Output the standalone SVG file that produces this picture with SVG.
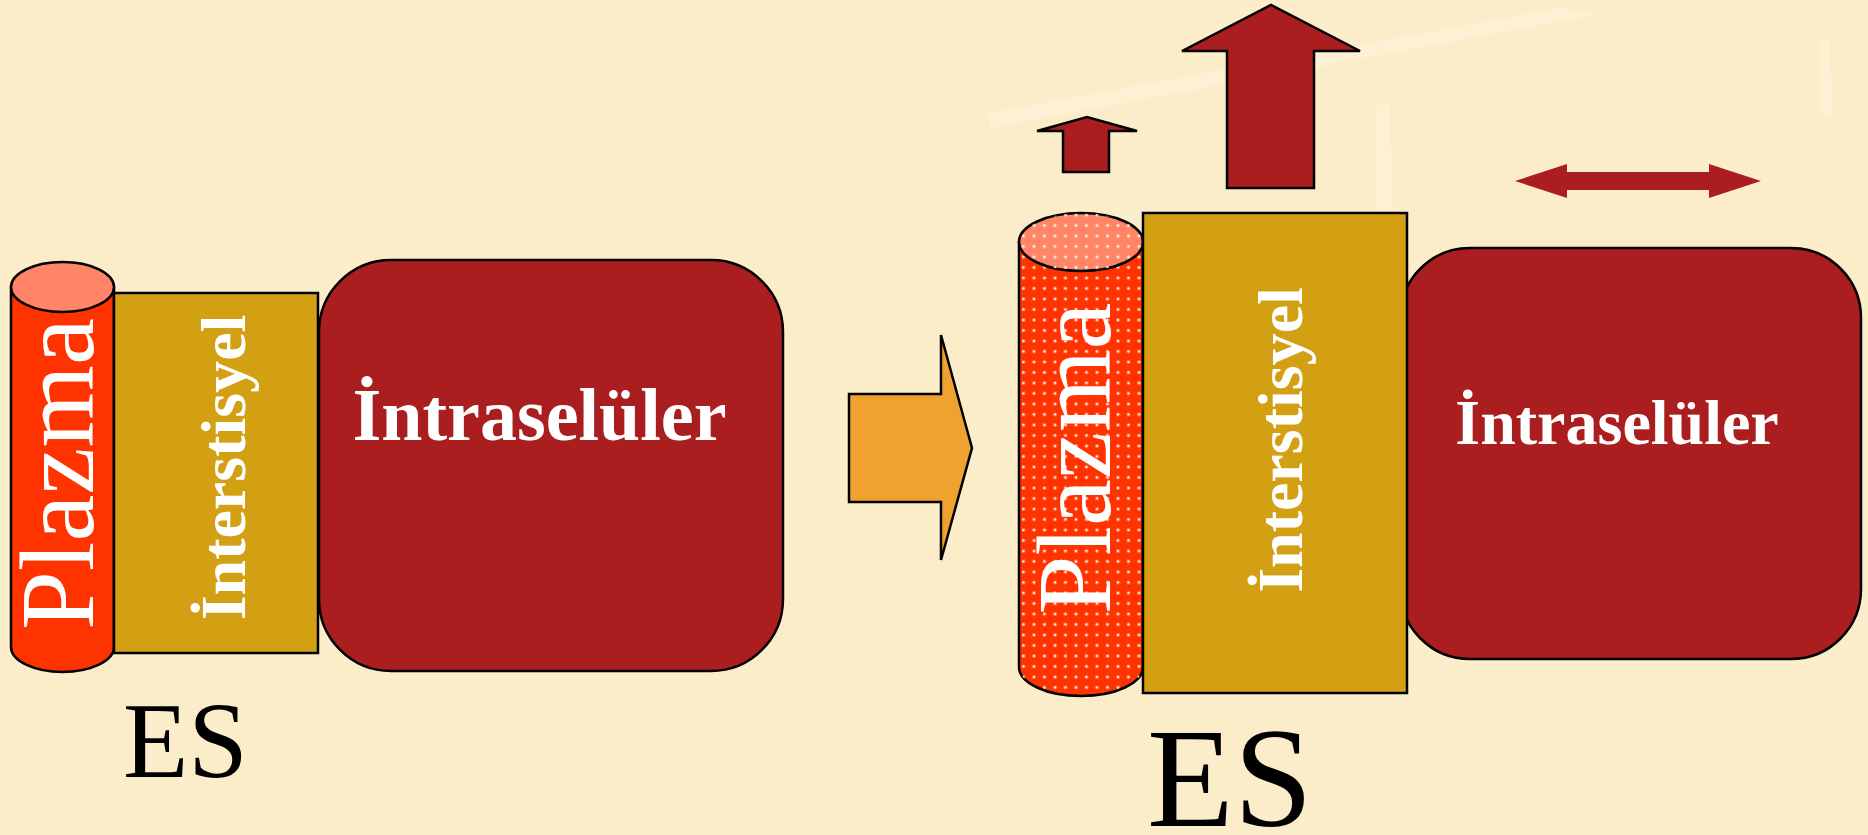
<svg xmlns="http://www.w3.org/2000/svg" width="1868" height="835" viewBox="0 0 1868 835">
<style>
.stk{stroke:#000;stroke-width:2.5}
.cyl{fill:#FF3300}
.cyltop{fill:#FF8566}
.inter{fill:#D3A014}
.intra{fill:#AA1E20}
.wt{fill:#fff;font-family:"Liberation Serif","Times New Roman",serif}
.bd{font-weight:bold}
.es{fill:#000;font-family:"Liberation Serif","Times New Roman",serif}
.faint{fill:#FDF1D8;opacity:0.6}
</style>
<defs>
<pattern id="dots" x="0" y="0" width="10.5" height="10.5" patternUnits="userSpaceOnUse">
<circle cx="5" cy="5" r="2" fill="#fff" opacity="0.3"/>
<circle cx="5" cy="5" r="1.1" fill="#fff"/>
</pattern>
</defs>
<rect width="1868" height="835" fill="#FCEDCA"/>
<g id="bg">
<polygon class="faint" points="988,113 1560,8 1600,14 990,128"/>
<polygon class="faint" points="1375,105 1390,105 1395,330 1378,330"/>
<polygon class="faint" points="1820,40 1830,40 1832,115 1820,115"/>
</g>
<g id="left-plazma">
<path class="cyl stk" d="M11,287 L11,647 A51.5,25 0 0 0 114,647 L114,287 Z"/>
<ellipse class="cyltop stk" cx="62.5" cy="287" rx="51.5" ry="25"/>
<text class="wt" font-size="106" text-anchor="middle" transform="translate(93,474) rotate(-90)">Plazma</text>
</g>
<g id="left-intraseluler">
<rect class="intra stk" x="319" y="260" width="464" height="411" rx="72" ry="72"/>
<text class="wt bd" font-size="74" text-anchor="middle" x="539.5" y="440">İntraselüler</text>
</g>
<g id="left-interstisyel">
<rect class="inter stk" x="114" y="293" width="204" height="360"/>
<text class="wt bd" font-size="64" text-anchor="middle" transform="translate(245,467.5) rotate(-90)">İnterstisyel</text>
</g>
<g id="left-es">
<text class="es" font-size="107" x="123" y="777">ES</text>
</g>
<g id="right-intraseluler">
<rect class="intra stk" x="1400" y="248" width="461" height="411" rx="70" ry="70"/>
<text class="wt bd" font-size="64" text-anchor="middle" x="1617" y="444">İntraselüler</text>
</g>
<g id="right-plazma">
<path class="cyl stk" d="M1019,242 L1019,667 A62,29 0 0 0 1143,667 L1143,242 Z"/>
<path fill="url(#dots)" d="M1019,242 L1019,667 A62,29 0 0 0 1143,667 L1143,242 Z"/>
<ellipse class="cyltop stk" cx="1081" cy="242" rx="62" ry="29"/>
<ellipse fill="url(#dots)" cx="1081" cy="242" rx="62" ry="29"/>
<text class="wt" font-size="106" text-anchor="middle" transform="translate(1110,458.5) rotate(-90)">Plazma</text>
</g>
<g id="right-interstisyel">
<rect class="inter stk" x="1143" y="213" width="264" height="480"/>
<text class="wt bd" font-size="64" text-anchor="middle" transform="translate(1302,440) rotate(-90)">İnterstisyel</text>
</g>
<g id="right-es">
<text class="es" font-size="142" x="1147" y="826">ES</text>
</g>
<g id="connectors">
<polygon fill="#EFA230" class="stk" points="849,394 941,394 941,335 972,448 941,560 941,502 849,502"/>
<polygon class="intra stk" points="1063,172 1063,131 1037,131 1087,117 1137,131 1109,131 1109,172"/>
<polygon class="intra stk" points="1227,188 1227,51 1182,51 1271,5 1360,51 1314,51 1314,188"/>
<polygon class="intra" points="1515,181 1567,164 1567,172 1709,172 1709,164 1761,181 1709,198 1709,190 1567,190 1567,198"/>
</g>
</svg>
